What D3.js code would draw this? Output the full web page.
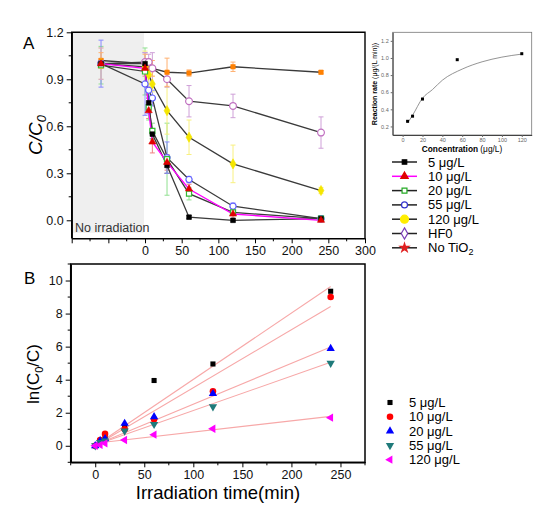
<!DOCTYPE html>
<html><head><meta charset="utf-8">
<script src="https://cdn.jsdelivr.net/npm/d3@7"></script>
<style>body{margin:0;background:#fff}svg{display:block;font-family:Arial,"Liberation Sans",sans-serif}</style>
</head><body>
<svg id="c" width="553" height="508"></svg>
<script>
// ---------- Panel A data (C/C0 vs time) ----------
const timesA = [-60, 0, 5, 10, 30, 60, 120, 240];
const seriesA = ["5 μg/L", "10 μg/L", "20 μg/L", "55 μg/L", "120 μg/L", "HF0", "No TiO2"];
const a5    = [1.00, 1.00, 0.75, 0.55, 0.35, 0.02, 0.00, 0.01];
const a10   = [1.00, 0.97, 0.70, 0.50, 0.37, 0.20, 0.04, 0.00];
const a20   = [0.99, 0.95, 0.72, 0.57, 0.39, 0.17, 0.05, 0.01];
const a55   = [1.00, 0.87, 0.83, 0.78, 0.40, 0.26, 0.09, 0.01];
const a120  = [1.00, 0.98, 0.93, 0.87, 0.70, 0.53, 0.36, 0.19];
const aHF0  = [1.00, 1.01, 1.01, 0.97, 0.90, 0.76, 0.73, 0.56];
const aNoTi = [1.02, 1.00, 0.98, 0.97, 0.945, 0.94, 0.98, 0.945];
const e5    = [0.02, 0.02, 0.03, 0.03, 0.05, 0.01, 0.01, 0.01];
const e10   = [0.03, 0.05, 0.05, 0.07, 0.05, 0.03, 0.03, 0.01];
const e20   = [0.12, 0.15, 0.08, 0.05, 0.23, 0.04, 0.02, 0.02];
const e55   = [0.15, 0.20, 0.15, 0.05, 0.10, 0.02, 0.02, 0.02];
const e120  = [0.10, 0.10, 0.08, 0.05, 0.15, 0.11, 0.12, 0.02];
const eHF0  = [0.10, 0.06, 0.05, 0.10, 0.05, 0.10, 0.075, 0.10];
const eNoTi = [0.05, 0.06, 0.05, 0.05, 0.09, 0.02, 0.03, 0.01];
const ticksAx = [-100, -50, 0, 50, 100, 150, 200, 250, 300];
const ticksAy = [0.0, 0.3, 0.6, 0.9, 1.2];

// ---------- Inset data ----------
const insetConc = [5, 10, 20, 55, 120];
const insetRate = [0.26, 0.32, 0.52, 0.98, 1.05];
const insetCurveX = [5, 10, 20, 30, 40, 60, 80, 100, 120];
const insetCurveY = [0.24, 0.33, 0.53, 0.63, 0.74, 0.87, 0.955, 1.01, 1.045];
const insetTicksX = [0, 20, 40, 60, 80, 100, 120];
const insetTicksY = [0.2, 0.4, 0.6, 0.8, 1.0, 1.2];

// ---------- Panel B data (ln(C0/C) vs time) ----------
const timesB = [0, 5, 10, 30, 60, 120, 240];
const seriesB = ["5 μg/L", "10 μg/L", "20 μg/L", "55 μg/L", "120 μg/L"];
const b5   = [0, 0.29, 0.60, 1.15, 3.95, 4.95, 9.35];
const b10  = [0, 0.35, 0.72, 1.00, 1.60, 3.30, 9.00];
const b20  = [0, 0.30, 0.42, 1.35, 1.75, 3.15, 5.88];
const b55  = [0, 0.20, 0.30, 0.90, 1.30, 2.36, 5.00];
const b120 = [0, 0.05, 0.15, 0.35, 0.67, 1.03, 1.70];
const fitX = [0, 240];
const fitStart = [0, 0, 0.05, 0.05, 0.15];
const fitEnd = [9.64, 8.43, 5.98, 5.05, 1.78];
const ticksBx = [0, 50, 100, 150, 200, 250];
const ticksBy = [0, 2, 4, 6, 8, 10];

const svg = d3.select("#c");
const F = 'Arial,"Liberation Sans",sans-serif';

// ================= PANEL A =================
const xA = d3.scaleLinear().domain([-100, 300]).range([71.7, 365]);
const yA = d3.scaleLinear().domain([-0.115, 1.2]).range([238.3, 32.3]);
const gA = svg.append("g");
gA.append("rect").attr("x", xA(-100)).attr("y", yA(1.2)).attr("width", xA(0) - xA(-100) - 1)
  .attr("height", yA(-0.08) - yA(1.2)).attr("fill", "#efefef");
gA.append("text").attr("x", 75).attr("y", 232).attr("font-size", 12.5).attr("fill", "#333").text("No irradiation");

const stylesA = [
  {v: a5, e: e5, col: "#000", line: "#3a3a3a", sym: d3.symbolSquare, fill: "#000", ecol: "#555", size: 22},
  {v: a10, e: e10, col: "#e00000", line: "#ff00ff", sym: d3.symbolTriangle, fill: "#e00000", ecol: "#f08080", size: 22},
  {v: a20, e: e20, col: "#33bb33", line: "#3a3a3a", sym: d3.symbolSquare, fill: "#fff", ecol: "#90e090", size: 26},
  {v: a55, e: e55, col: "#6060ff", line: "#3a3a3a", sym: d3.symbolCircle, fill: "#fff", ecol: "#8888ff", size: 30},
  {v: a120, e: e120, col: "#f5e600", line: "#3a3a3a", sym: d3.symbolDiamond, fill: "#f5e600", ecol: "#f8f080", size: 30},
  {v: aHF0, e: eHF0, col: "#c070c0", line: "#3a3a3a", sym: d3.symbolCircle, fill: "#fff", ecol: "#cfa0d8", size: 36},
  {v: aNoTi, e: eNoTi, col: "#ff8000", line: "#3a3a3a", sym: d3.symbolSquare, fill: "#ff8000", ecol: "#ffb070", size: 20}
];
// error bars
stylesA.forEach(s => {
  const g = gA.append("g").attr("stroke", s.ecol).attr("stroke-width", 1);
  timesA.forEach((t, i) => {
    const x = xA(t), y1 = Math.max(yA(s.v[i] + s.e[i]), 20), y2 = yA(s.v[i] - s.e[i]);
    g.append("line").attr("x1", x).attr("x2", x).attr("y1", y1).attr("y2", y2);
    g.append("line").attr("x1", x-2.5).attr("x2", x+2.5).attr("y1", y1).attr("y2", y1);
    g.append("line").attr("x1", x-2.5).attr("x2", x+2.5).attr("y1", y2).attr("y2", y2);
  });
});
// lines (draw back to front)
const lineA = d3.line().x((d,i)=>xA(timesA[i])).y(d=>yA(d));
[6,5,4,3,2,0,1].forEach(k => {
  const s = stylesA[k];
  gA.append("path").attr("d", lineA(s.v)).attr("fill", "none").attr("stroke", s.line).attr("stroke-width", 1.3);
});
[6,5,4,3,2,0,1].forEach(k => {
  const s = stylesA[k];
  gA.append("g").selectAll("path").data(s.v).join("path")
    .attr("transform", (d,i)=>`translate(${xA(timesA[i])},${yA(d)})`)
    .attr("d", d3.symbol(s.sym, s.size)())
    .attr("fill", s.fill).attr("stroke", s.col).attr("stroke-width", s.fill === "#fff" ? 1.2 : 0.6);
});
// frame and axes
gA.append("path").attr("d", `M${xA(-100)},${yA(-0.115)}V${yA(1.2)}H${xA(300)}V${yA(-0.115)}`)
  .attr("fill", "none").attr("stroke", "#000").attr("stroke-width", 1.4);
const axAx = gA.append("g").attr("transform", `translate(0,${yA(-0.115)})`)
  .call(d3.axisBottom(xA).tickValues(ticksAx).tickSize(5).tickSizeOuter(0).tickFormat(d => d < 0 ? "" : d));
axAx.append("g").selectAll("line").data(d3.range(-75, 300, 50)).join("line")
  .attr("x1", d=>xA(d)).attr("x2", d=>xA(d)).attr("y1", 0).attr("y2", 3).attr("stroke", "#000");
const axAy = gA.append("g").attr("transform", `translate(${xA(-100)},0)`)
  .call(d3.axisLeft(yA).tickValues(ticksAy).tickSize(5).tickSizeOuter(0).tickFormat(d3.format(".1f")));
axAy.append("g").selectAll("line").data([0.15, 0.45, 0.75, 1.05]).join("line")
  .attr("x1", 0).attr("x2", -3).attr("y1", d=>yA(d)).attr("y2", d=>yA(d)).attr("stroke", "#000");
[axAx, axAy].forEach(a => {
  a.selectAll(".domain").attr("stroke-width", 1.4);
  a.selectAll("text").attr("font-size", 12.5).attr("font-family", F).attr("fill", "#111");
});
gA.append("text").attr("x", 23).attr("y", 49).attr("font-size", 17).text("A");
gA.append("text").attr("transform", "translate(42,135) rotate(-90)").attr("text-anchor", "middle")
  .attr("font-size", 19).attr("font-style", "italic")
  .html('C/C<tspan font-size="13" dy="4">0</tspan>');

// ================= INSET =================
const xI = d3.scaleLinear().domain([-10, 130]).range([392.7, 531.7]);
const yI = d3.scaleLinear().domain([0.1, 1.3]).range([135, 32.3]);
const gI = svg.append("g");
gI.append("rect").attr("x", 368).attr("y", 28).attr("width", 175).attr("height", 126).attr("fill", "#fff");
gI.append("rect").attr("x", xI(-10)).attr("y", yI(1.3)).attr("width", xI(130)-xI(-10)).attr("height", yI(0.1)-yI(1.3))
  .attr("fill", "none").attr("stroke", "#777").attr("stroke-width", 0.8);
const ixa = gI.append("g").attr("transform", `translate(0,${yI(0.1)})`)
  .call(d3.axisBottom(xI).tickValues(insetTicksX).tickSize(2).tickPadding(1).tickSizeOuter(0));
const iya = gI.append("g").attr("transform", `translate(${xI(-10)},0)`)
  .call(d3.axisLeft(yI).tickValues(insetTicksY).tickSize(2).tickPadding(2).tickSizeOuter(0).tickFormat(d3.format(".1f")));
[ixa, iya].forEach(a => {
  a.selectAll(".domain").attr("stroke", "#333").attr("stroke-width", 0.9);
  a.selectAll("line").attr("stroke", "#666");
  a.selectAll("text").attr("font-size", 5.5).attr("font-family", F).attr("fill", "#666");
});
gI.append("path").datum(insetCurveX).attr("d", d3.line().x(d=>xI(d)).y((d,i)=>yI(insetCurveY[i])).curve(d3.curveMonotoneX))
  .attr("fill", "none").attr("stroke", "#888").attr("stroke-width", 0.9);
gI.selectAll("rect.pt").data(insetConc).join("rect").attr("class", "pt")
  .attr("x", d=>xI(d)-1.5).attr("y", (d,i)=>yI(insetRate[i])-1.5).attr("width", 3).attr("height", 3).attr("fill", "#000");
gI.append("text").attr("x", 462).attr("y", 151.5).attr("text-anchor", "middle").attr("font-size", 8.3)
  .html('<tspan font-weight="bold">Concentration</tspan> (μg/L)');
gI.append("text").attr("transform", "translate(377,84) rotate(-90)").attr("text-anchor", "middle").attr("font-size", 7)
  .html('<tspan font-weight="bold">Reaction rate</tspan> (μg/(L min))');

// ================= LEGEND A =================
const legA = [
  {line: "#222", sym: d3.symbolSquare, fill: "#000", col: "#000", size: 20},
  {line: "#ff00ff", sym: d3.symbolTriangle, fill: "#e00000", col: "#e00000", size: 24},
  {line: "#222", sym: d3.symbolSquare, fill: "#fff", col: "#22aa22", size: 24},
  {line: "#222", sym: d3.symbolCircle, fill: "#fff", col: "#3333cc", size: 28},
  {line: "#222", sym: d3.symbolCircle, fill: "#ffee00", col: "#ffee00", size: 50},
  {line: "#222", sym: d3.symbolDiamond, fill: "#fff", col: "#7a3db8", size: 36},
  {line: "#222", sym: d3.symbolStar, fill: "#e02020", col: "#e02020", size: 24}
];
const lgA = svg.append("g");
seriesA.forEach((name, i) => {
  const y = 162 + i * 14.3;
  lgA.append("line").attr("x1", 392).attr("x2", 417).attr("y1", y).attr("y2", y).attr("stroke", legA[i].line).attr("stroke-width", 1.5);
  lgA.append("path").attr("transform", `translate(404.5,${y})`).attr("d", d3.symbol(legA[i].sym, legA[i].size)())
    .attr("fill", legA[i].fill).attr("stroke", legA[i].col).attr("stroke-width", 1.2);
  const t = lgA.append("text").attr("x", 428).attr("y", y + 4.5).attr("font-size", 13);
  if (name === "No TiO2") t.html('No TiO<tspan font-size="9" dy="3">2</tspan>'); else t.text(name);
});

// ================= PANEL B =================
const xB = d3.scaleLinear().domain([-25, 275]).range([70.7, 365]);
const yB = d3.scaleLinear().domain([-1, 11]).range([462.3, 264]);
const gB = svg.append("g");
const valsB = [b5, b10, b20, b55, b120];
const stB = [
  {sym: d3.symbolSquare, col: "#000", size: 26, rot: 0},
  {sym: d3.symbolCircle, col: "#ff0000", size: 34, rot: 0},
  {sym: d3.symbolTriangle, col: "#0000ff", size: 30, rot: 0},
  {sym: d3.symbolTriangle, col: "#1f7a7a", size: 30, rot: 180},
  {sym: d3.symbolTriangle, col: "#ff00ff", size: 30, rot: -90}
];
fitStart.forEach((s, i) => {
  gB.append("line").attr("x1", xB(fitX[0])).attr("y1", yB(s)).attr("x2", xB(fitX[1])).attr("y2", yB(fitEnd[i]))
    .attr("stroke", "#f7a8a8").attr("stroke-width", 1.1);
});
valsB.forEach((v, k) => {
  gB.append("g").selectAll("path").data(v).join("path")
    .attr("transform", (d,i)=>`translate(${xB(timesB[i])},${yB(d)}) rotate(${stB[k].rot})`)
    .attr("d", d3.symbol(stB[k].sym, stB[k].size)()).attr("fill", stB[k].col);
});
gB.append("rect").attr("x", xB(-25)).attr("y", yB(11)).attr("width", xB(275)-xB(-25)).attr("height", yB(-1)-yB(11))
  .attr("fill", "none").attr("stroke", "#000").attr("stroke-width", 1.5);
const bxa = gB.append("g").attr("transform", `translate(0,${yB(-1)})`)
  .call(d3.axisBottom(xB).tickValues(ticksBx).tickSize(5).tickSizeOuter(0));
bxa.append("g").selectAll("line").data([-25, 25, 75, 125, 175, 225, 275]).join("line")
  .attr("x1", d=>xB(d)).attr("x2", d=>xB(d)).attr("y1", 0).attr("y2", 3).attr("stroke", "#000");
const bya = gB.append("g").attr("transform", `translate(${xB(-25)},0)`)
  .call(d3.axisLeft(yB).tickValues(ticksBy).tickSize(5).tickSizeOuter(0));
bya.append("g").selectAll("line").data([-1, 1, 3, 5, 7, 9, 11]).join("line")
  .attr("x1", 0).attr("x2", -3).attr("y1", d=>yB(d)).attr("y2", d=>yB(d)).attr("stroke", "#000");
[bxa, bya].forEach(a => {
  a.selectAll(".domain").attr("stroke-width", 1.5);
  a.selectAll("text").attr("font-size", 12.5).attr("font-family", F).attr("fill", "#111");
});
gB.append("text").attr("x", 24).attr("y", 284).attr("font-size", 17).text("B");
gB.append("text").attr("transform", "translate(39,374) rotate(-90)").attr("text-anchor", "middle").attr("font-size", 17)
  .html('ln(C<tspan font-size="11" dy="4">0</tspan><tspan dy="-4">/C)</tspan>');
gB.append("text").attr("x", 218).attr("y", 499).attr("text-anchor", "middle").attr("font-size", 18.5).text("Irradiation time(min)");

// legend B
const lgB = svg.append("g");
seriesB.forEach((name, i) => {
  const y = 402.5 + i * 14.3;
  lgB.append("path").attr("transform", `translate(390,${y}) rotate(${stB[i].rot})`)
    .attr("d", d3.symbol(stB[i].sym, stB[i].size)()).attr("fill", stB[i].col);
  lgB.append("text").attr("x", 409).attr("y", y + 4.5).attr("font-size", 13).text(name);
});
</script>
</body></html>
